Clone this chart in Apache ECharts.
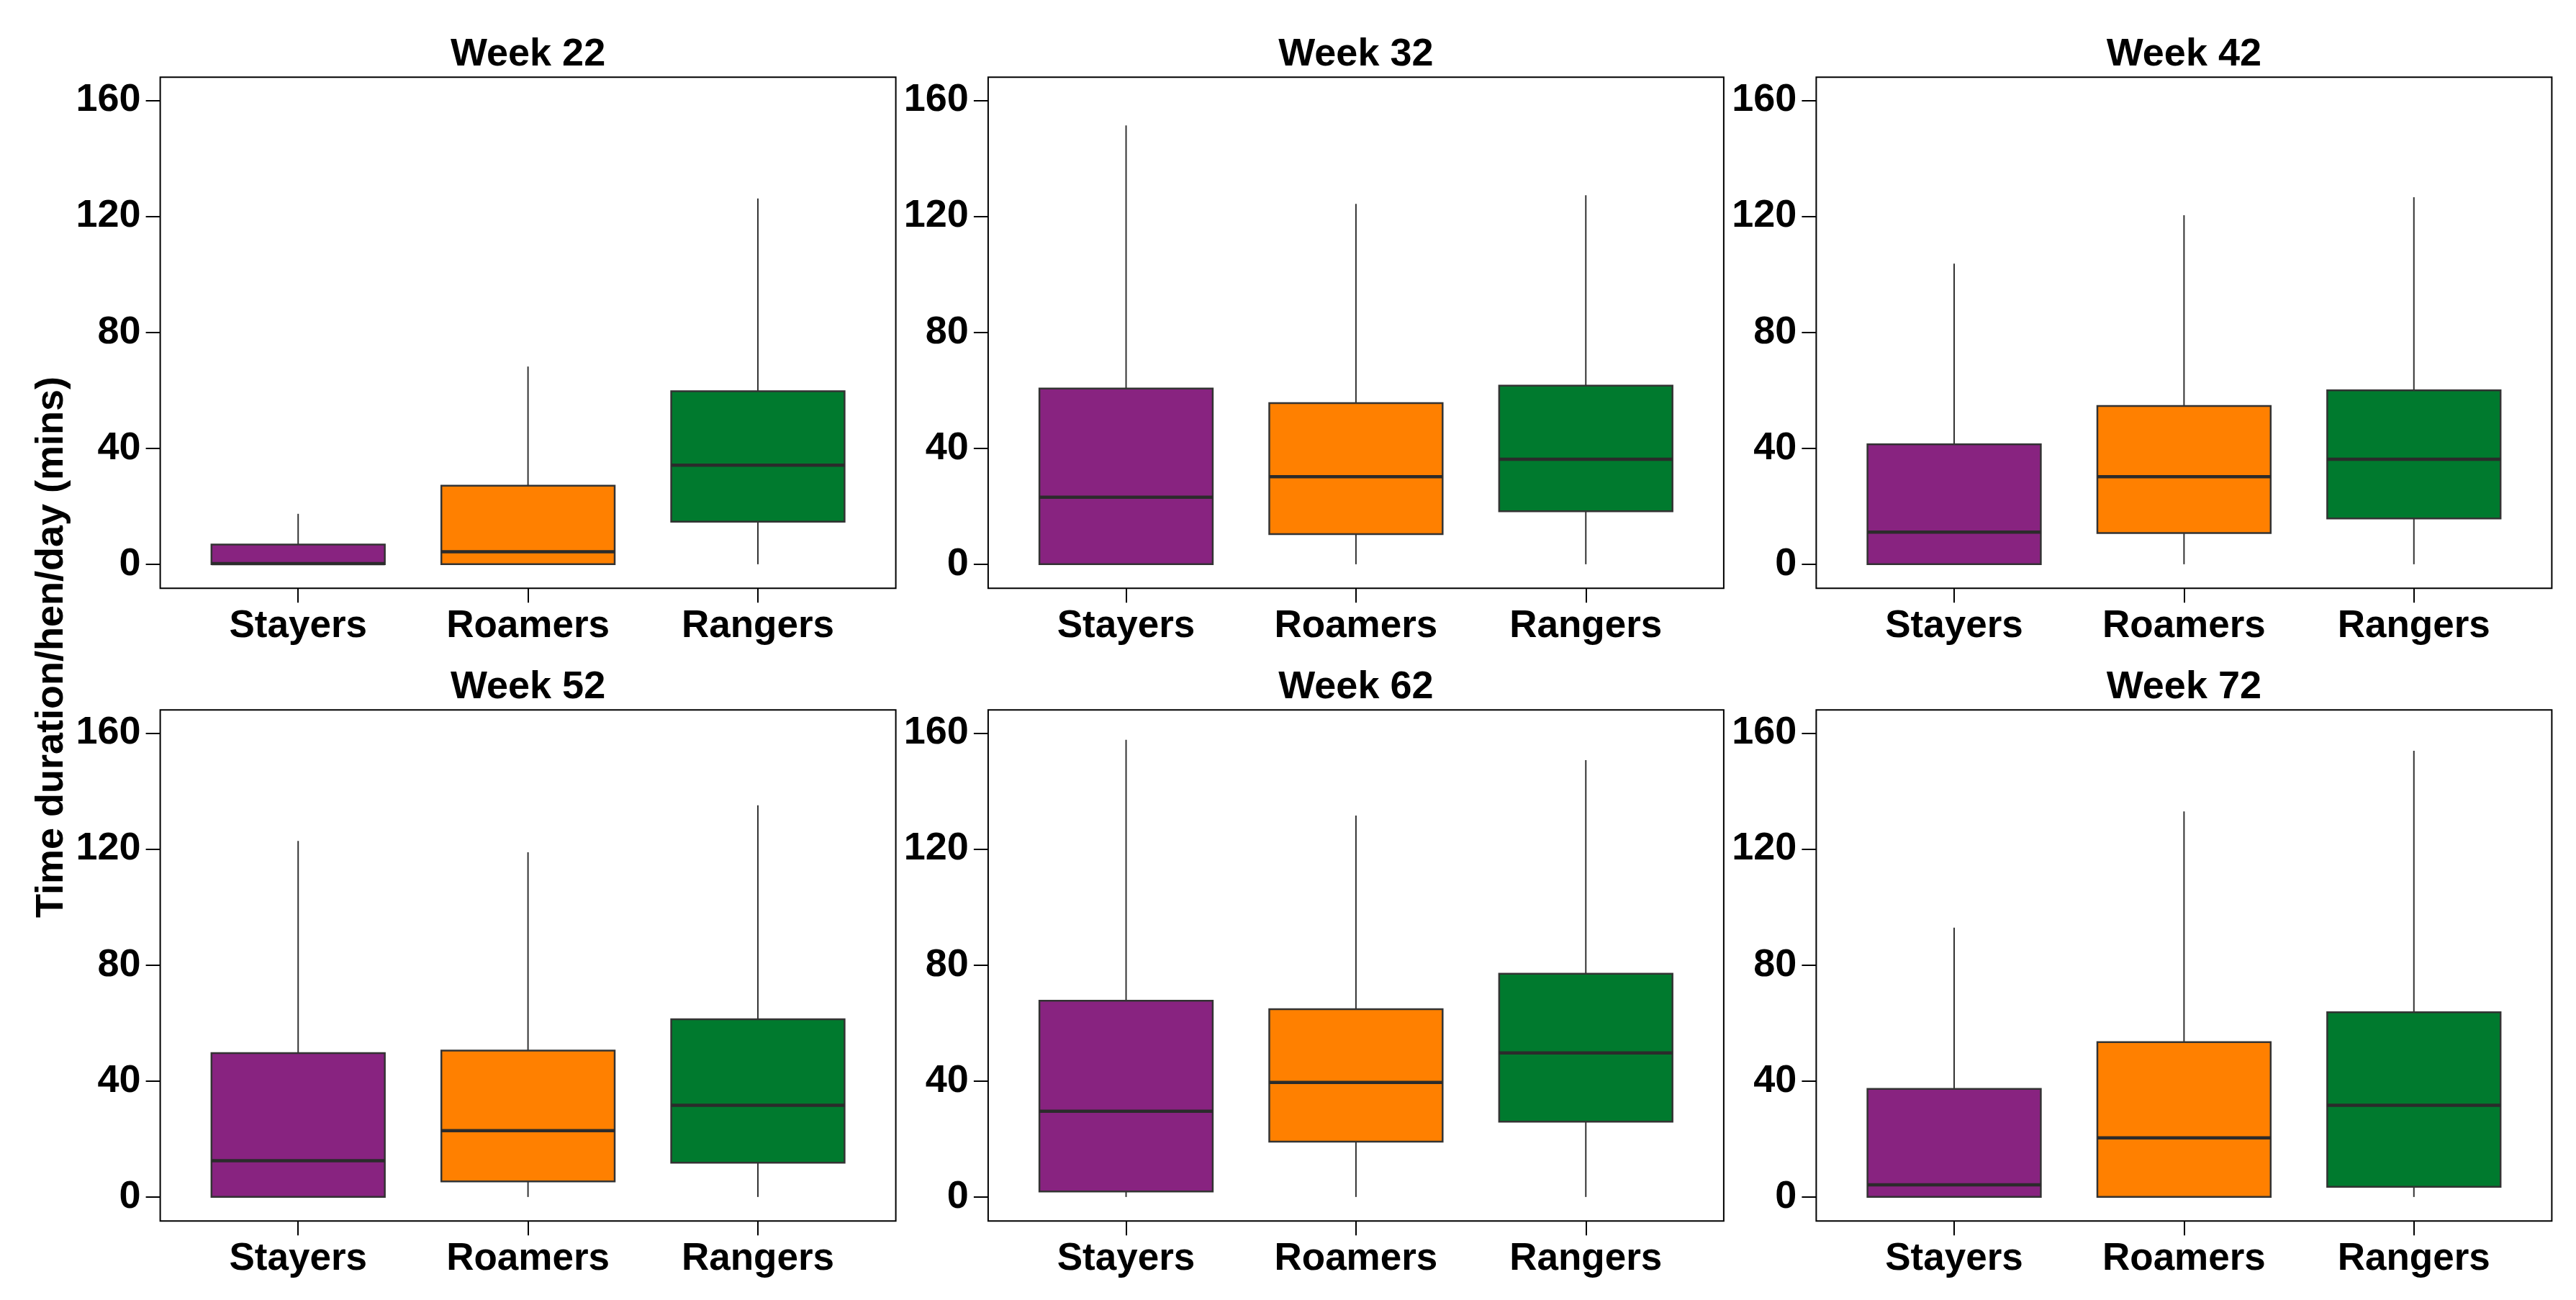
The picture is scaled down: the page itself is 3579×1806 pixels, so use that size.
<!DOCTYPE html>
<html>
<head>
<meta charset="utf-8">
<script src="https://cdn.jsdelivr.net/npm/echarts@6/dist/echarts.min.js"></script>
<style>
html,body{margin:0;padding:0;background:#fff;}
#chart{width:3579px;height:1806px;}
</style>
</head>
<body>
<div id="chart"></div>
<script>
// ---- data (min, Q1, median, Q3, max) ----
const categories = ['Stayers', 'Roamers', 'Rangers'];
const weekTitles = ['Week 22', 'Week 32', 'Week 42', 'Week 52', 'Week 62', 'Week 72'];
const yTicks = [0, 40, 80, 120, 160];
const groupColors = ['#882380', '#FF8000', '#007A2E'];

const week22 = [[0, 0, 0.2, 6.8, 17.4], [0, 0, 4.3, 27.1, 68.2], [0, 14.7, 34.2, 59.7, 126.2]];
const week32 = [[0, 0, 23.1, 60.6, 151.4], [0, 10.4, 30.2, 55.6, 124.3], [0, 18.3, 36.2, 61.6, 127.3]];
const week42 = [[0, 0, 11.1, 41.4, 103.7], [0, 10.8, 30.2, 54.6, 120.4], [0, 15.8, 36.2, 60.0, 126.6]];
const week52 = [[0, 0, 12.5, 49.6, 122.8], [0, 5.4, 22.9, 50.5, 118.9], [0, 11.8, 31.6, 61.3, 135.1]];
const week62 = [[0, 1.9, 29.6, 67.7, 157.7], [0, 19.1, 39.5, 64.8, 131.6], [0, 26.0, 49.7, 77.0, 150.7]];
const week72 = [[0, 0, 4.2, 37.3, 92.9], [0, 0, 20.4, 53.4, 133.0], [0, 3.5, 31.6, 63.7, 153.9]];
const weeks = [week22, week32, week42, week52, week62, week72];

// ---- layout ----
const FONT = "'Liberation Sans', Arial, Helvetica, sans-serif";
const gridLefts = [222.6, 1372.9, 2523.4];
const gridTops = [107.3, 986.3];
const gridW = 1022;
const gridH = 710;

const chart = echarts.init(document.getElementById('chart'), null, {renderer: 'canvas'});

function renderBox(params, api) {
  const x = api.value(0);
  const pMin = api.coord([x, api.value(1)]);
  const pQ1 = api.coord([x, api.value(2)]);
  const pMed = api.coord([x, api.value(3)]);
  const pQ3 = api.coord([x, api.value(4)]);
  const pMax = api.coord([x, api.value(5)]);
  const w = api.size([0.754, 0])[0];
  const cx = pMed[0];
  const color = groupColors[params.dataIndex];
  return {
    type: 'group',
    children: [
      {type: 'line', shape: {x1: cx, y1: pMax[1], x2: cx, y2: pQ3[1]}, style: {stroke: '#333', lineWidth: 2}},
      {type: 'line', shape: {x1: cx, y1: pQ1[1], x2: cx, y2: pMin[1]}, style: {stroke: '#333', lineWidth: 2}},
      {type: 'rect', shape: {x: cx - w / 2, y: pQ3[1], width: w, height: pQ1[1] - pQ3[1]},
        style: {fill: color, stroke: '#333', lineWidth: 2.5}},
      {type: 'line', shape: {x1: cx - w / 2, y1: pMed[1], x2: cx + w / 2, y2: pMed[1]},
        style: {stroke: '#2b2b2b', lineWidth: 4.5}}
    ]
  };
}

const grids = [], xAxes = [], yAxes = [], series = [], graphics = [];
weeks.forEach((wk, i) => {
  const col = i % 3, row = Math.floor(i / 3);
  const left = gridLefts[col], top = gridTops[row];
  grids.push({left: left, top: top, width: gridW, height: gridH, show: true,
    borderColor: '#000', borderWidth: 2, backgroundColor: 'transparent', containLabel: false});
  xAxes.push({
    type: 'value', gridIndex: i, min: 0.4, max: 3.6,
    axisLine: {show: false, onZero: false},
    splitLine: {show: false},
    axisTick: {show: true, length: 20, lineStyle: {color: '#000', width: 2}, customValues: [1, 2, 3]},
    axisLabel: {show: true, margin: 27, customValues: [1, 2, 3],
      formatter: v => categories[Math.round(v) - 1] || '',
      fontFamily: FONT, fontWeight: 'bold', fontSize: 53, color: '#000'}
  });
  yAxes.push({
    type: 'value', gridIndex: i, min: -8.3, max: 168,
    axisLine: {show: false, onZero: false},
    splitLine: {show: false},
    axisTick: {show: true, length: 20, lineStyle: {color: '#000', width: 2}, customValues: yTicks},
    axisLabel: {show: true, margin: 27, customValues: yTicks,
      fontFamily: FONT, fontWeight: 'bold', fontSize: 54, color: '#000'}
  });
  series.push({
    type: 'custom', xAxisIndex: i, yAxisIndex: i,
    renderItem: renderBox,
    encode: {x: 0, y: [1, 2, 3, 4, 5]},
    data: wk.map((b, j) => [j + 1].concat(b)),
    silent: true
  });
  graphics.push({
    type: 'text', x: left + gridW / 2, y: top - 31,
    style: {text: weekTitles[i], fill: '#000', font: 'bold 54px ' + FONT,
      textAlign: 'center', textVerticalAlign: 'middle'}
  });
});

graphics.push({
  type: 'text', x: 72, y: 899, rotation: Math.PI / 2,
  style: {text: 'Time duration/hen/day (mins)', fill: '#000', font: 'bold 54px ' + FONT,
    textAlign: 'center', textVerticalAlign: 'middle'}
});

chart.setOption({
  backgroundColor: '#fff',
  animation: false,
  grid: grids,
  xAxis: xAxes,
  yAxis: yAxes,
  series: series,
  graphic: graphics
});
</script>
</body>
</html>
